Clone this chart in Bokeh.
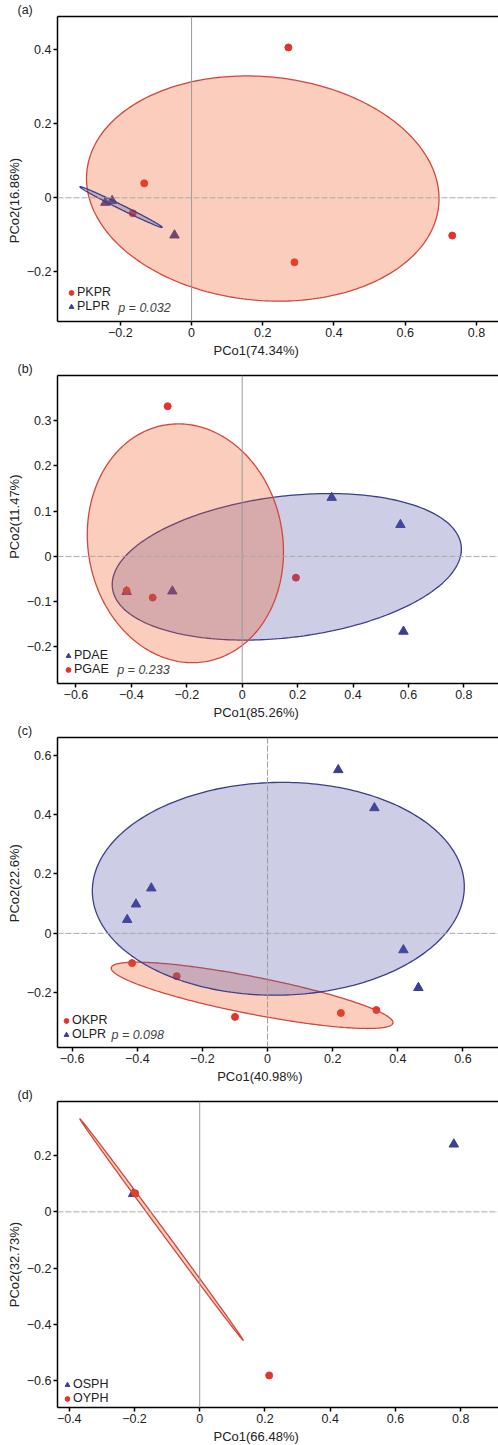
import numpy as np
from bokeh.plotting import figure
from bokeh.models import Range1d, FixedTicker, LinearAxis, Span, Label, Legend, LegendItem, Title
from bokeh.layouts import column
from bokeh.embed import file_html
from bokeh.resources import INLINE

# ---------------- data ----------------
# panel (a)
a_red_name, a_blue_name = "PKPR", "PLPR"
a_red_x = [0.272, -0.133, -0.165, 0.289, 0.732]
a_red_y = [0.406, 0.039, -0.042, -0.174, -0.102]
a_blue_x = [-0.048, -0.223, -0.242]
a_blue_y = [-0.101, -0.008, -0.013]
a_red_ell = [0.200, 0.025, 0.495, 0.304, -0.09]     # cx, cy, sx, sy, rho
a_blue_ell = [-0.198, -0.025, 0.1155, 0.055, -0.9925]
a_xticks = [-0.2, 0, 0.2, 0.4, 0.6, 0.8]
a_yticks = [-0.2, 0, 0.2, 0.4]
a_xlabel, a_ylabel, a_p = "PCo1(74.34%)", "PCo2(16.86%)", "p = 0.032"

# panel (b)
b_blue_name, b_red_name = "PDAE", "PGAE"
b_blue_x = [0.323, 0.571, 0.582, -0.252, -0.417]
b_blue_y = [0.130, 0.070, -0.166, -0.077, -0.078]
b_red_x = [-0.269, 0.194, -0.417, -0.323]
b_red_y = [0.332, -0.047, -0.076, -0.091]
b_blue_ell = [0.161, -0.023, 0.630, 0.162, 0.242]
b_red_ell = [-0.205, 0.029, 0.354, 0.264, -0.072]
b_xticks = [-0.6, -0.4, -0.2, 0, 0.2, 0.4, 0.6, 0.8]
b_yticks = [-0.2, -0.1, 0, 0.1, 0.2, 0.3]
b_xlabel, b_ylabel, b_p = "PCo1(85.26%)", "PCo2(11.47%)", "p = 0.233"

# panel (c)
c_red_name, c_blue_name = "OKPR", "OLPR"
c_blue_x = [0.217, 0.328, -0.357, -0.404, -0.431, 0.417, 0.463]
c_blue_y = [0.550, 0.422, 0.152, 0.098, 0.046, -0.056, -0.183]
c_red_x = [-0.416, -0.279, -0.100, 0.225, 0.334]
c_red_y = [-0.100, -0.144, -0.281, -0.268, -0.258]
c_blue_ell = [0.033, 0.150, 0.571, 0.358, 0.02]
c_red_ell = [-0.0475, -0.2085, 0.4325, 0.1115, -0.82]
c_xticks = [-0.6, -0.4, -0.2, 0, 0.2, 0.4, 0.6]
c_yticks = [-0.2, 0, 0.2, 0.4, 0.6]
c_xlabel, c_ylabel, c_p = "PCo1(40.98%)", "PCo2(22.6%)", "p = 0.098"

# panel (d)
d_blue_name, d_red_name = "OSPH", "OYPH"
d_blue_x = [0.779, -0.204]
d_blue_y = [0.240, 0.064]
d_red_x = [-0.198, 0.213]
d_red_y = [0.066, -0.581]
d_red_ell = [-0.117, -0.063, 0.2505, 0.3935, -0.9996]
d_xticks = [-0.4, -0.2, 0, 0.2, 0.4, 0.6, 0.8]
d_yticks = [-0.6, -0.4, -0.2, 0, 0.2]
d_xlabel, d_ylabel, d_p = "PCo1(66.48%)", "PCo2(32.73%)", ""

# ---------------- style ----------------
FONT = "Liberation Sans"
RED_PT, BLUE_PT = "#e3342c", "#3a3f94"
RED_LINE, BLUE_LINE = "#d2473c", "#3b3f8a"
RED_FILL, BLUE_FILL = "#ee5826", "#5858ac"
FILL_ALPHA = 0.3
TXT = "#222222"
W = 498


def ellipse_pts(e, n=300):
    cx, cy, sx, sy, rho = e
    t = np.linspace(0, 2 * np.pi, n)
    x = cx + sx * np.cos(t)
    y = cy + sy * (rho * np.cos(t) + np.sqrt(1 - rho ** 2) * np.sin(t))
    return x, y


def style_axis(ax, ticks):
    ax.ticker = FixedTicker(ticks=ticks)
    ax.major_label_overrides = {0: "0"}
    ax.axis_line_color = "black"
    ax.axis_line_width = 1.5
    ax.major_tick_line_color = "black"
    ax.major_tick_line_width = 1.5
    ax.major_tick_out = 4
    ax.major_tick_in = 0
    ax.minor_tick_out = 0
    ax.minor_tick_in = 0
    ax.major_label_standoff = 2
    ax.major_label_text_font = FONT
    ax.major_label_text_font_size = "12.5px"
    ax.major_label_text_color = TXT


def make_panel(letter, xr, yr, xticks, yticks, xlab, ylab, groups, ptext, lay):
    T, FH, B = lay["top"], lay["frame"], lay["bottom"]
    p = figure(width=W, height=T + FH + B, x_range=Range1d(*xr), y_range=Range1d(*yr),
               output_backend="svg", toolbar_location=None,
               min_border_left=57, min_border_right=0, min_border_top=T, min_border_bottom=B)
    p.grid.visible = False
    p.outline_line_color = None
    style_axis(p.xaxis[0], xticks)
    style_axis(p.yaxis[0], yticks)

    top = LinearAxis(ticker=FixedTicker(ticks=[]), major_tick_out=0, major_tick_in=0,
                     minor_tick_out=0, minor_tick_in=0, major_label_text_font_size="0px",
                     major_label_standoff=0, axis_line_width=1.5, axis_line_color="black")
    p.add_layout(top, "above")

    p.add_layout(Span(location=0, dimension="height", line_color="#9a9a9a",
                      line_width=1, line_dash=lay["vdash"]))
    p.add_layout(Span(location=0, dimension="width", line_color="#aaaaaa",
                      line_width=1, line_dash="6 2"))

    items = []
    for g in groups:
        if g["kind"] == "red":
            r = p.scatter(g["x"], g["y"], marker="circle", size=7,
                          fill_color=RED_PT, line_color=RED_PT)
        else:
            r = p.scatter(g["x"], g["y"], marker="triangle", size=9.5,
                          fill_color=BLUE_PT, line_color=BLUE_PT)
        items.append(LegendItem(label=g["name"], renderers=[r]))
    for g in groups:
        if g.get("ell") is None:
            continue
        ex, ey = ellipse_pts(g["ell"])
        if g["kind"] == "red":
            p.patch(ex, ey, fill_color=RED_FILL, fill_alpha=FILL_ALPHA,
                    line_color=RED_LINE, line_width=1.3)
        else:
            p.patch(ex, ey, fill_color=BLUE_FILL, fill_alpha=FILL_ALPHA,
                    line_color=BLUE_LINE, line_width=1.3)

    leg = Legend(items=items, location=lay["leg"], orientation="vertical",
                 padding=0, margin=0, spacing=0, label_standoff=0,
                 glyph_width=12, glyph_height=13, label_height=13,
                 label_text_font=FONT, label_text_font_size="12.5px",
                 label_text_color=TXT, background_fill_alpha=0,
                 border_line_color=None)
    p.add_layout(leg)

    if ptext:
        p.add_layout(Label(x=lay["px"], y=lay["py"], x_units="screen", y_units="screen",
                           text=ptext, text_font=FONT, text_font_size="12.5px",
                           text_font_style="italic", text_color="#444444",
                           text_baseline="middle", text_align="left"))
    p.add_layout(Title(text=letter, align="left", offset=-40, standoff=0,
                       text_font=FONT, text_font_size="12.5px", text_font_style="normal",
                       text_color=TXT), "above")
    p.add_layout(Title(text=xlab, align="left", offset=lay["xoff"], standoff=3,
                       text_font=FONT, text_font_size="13px", text_font_style="normal",
                       text_color=TXT), "below")
    p.add_layout(Title(text=ylab, align="left", offset=lay["yoff"], standoff=3,
                       text_font=FONT, text_font_size="13px", text_font_style="normal",
                       text_color=TXT), "left")
    return p


pa = make_panel("(a)", (-0.3765, 0.862), (-0.334, 0.4895), a_xticks, a_yticks,
                a_xlabel, a_ylabel,
                [dict(kind="red", name=a_red_name, x=a_red_x, y=a_red_y, ell=a_red_ell),
                 dict(kind="blue", name=a_blue_name, x=a_blue_x, y=a_blue_y, ell=a_blue_ell)],
                a_p, dict(top=14, frame=307, bottom=38, vdash="solid", leg=(8, 8),
                          px=60.7, py=14, xoff=156, yoff=78.3))
pb = make_panel("(b)", (-0.6665, 0.925), (-0.281, 0.400), b_xticks, b_yticks,
                b_xlabel, b_ylabel,
                [dict(kind="blue", name=b_blue_name, x=b_blue_x, y=b_blue_y, ell=b_blue_ell),
                 dict(kind="red", name=b_red_name, x=b_red_x, y=b_red_y, ell=b_red_ell)],
                b_p, dict(top=11, frame=313, bottom=38, vdash="solid", leg=(5, 7),
                          px=59.7, py=13.3, xoff=156, yoff=124.7))
pc = make_panel("(c)", (-0.645, 0.709), (-0.384, 0.659), c_xticks, c_yticks,
                c_xlabel, c_ylabel,
                [dict(kind="red", name=c_red_name, x=c_red_x, y=c_red_y, ell=c_red_ell),
                 dict(kind="blue", name=c_blue_name, x=c_blue_x, y=c_blue_y, ell=c_blue_ell)],
                c_p, dict(top=15, frame=311, bottom=38, vdash="6 2", leg=(3, 6),
                          px=54, py=12.3, xoff=159.7, yoff=125.3))
pd_ = make_panel("(d)", (-0.436, 0.916), (-0.695, 0.392), d_xticks, d_yticks,
                 d_xlabel, d_ylabel,
                 [dict(kind="blue", name=d_blue_name, x=d_blue_x, y=d_blue_y, ell=None),
                  dict(kind="red", name=d_red_name, x=d_red_x, y=d_red_y, ell=d_red_ell)],
                 d_p, dict(top=10, frame=312, bottom=38, vdash="solid", leg=(4, 2),
                           px=0, py=0, xoff=156, yoff=100.3))

layout = column(pa, pb, pc, pd_, spacing=0)
open("out.html", "w").write(file_html(layout, INLINE))
